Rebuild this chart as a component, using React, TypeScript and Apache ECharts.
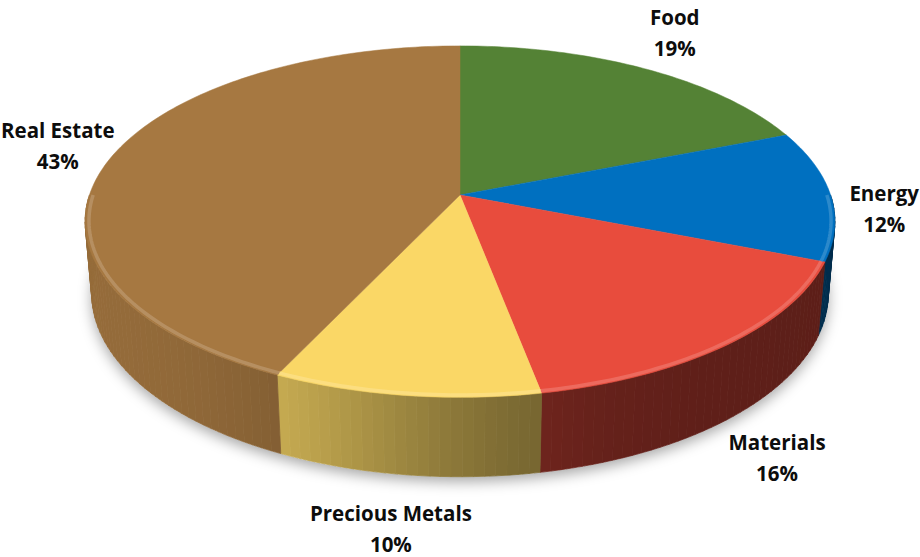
import React, { useEffect, useRef } from 'react';
import * as echarts from 'echarts';

// ---- data ----
const categories: string[] = ['Food', 'Energy', 'Materials', 'Precious Metals', 'Real Estate'];
const values: number[] = [19, 12, 16, 10, 43];
const sliceColors: string[] = ['#548235', '#0070C0', '#E84C3D', '#FAD766', '#A67841'];

const total = values.reduce((a, b) => a + b, 0);
const startAngles: number[] = [];
{
  let acc = 0;
  values.forEach((v) => {
    startAngles.push(acc);
    acc += (v / total) * 360;
  });
}

// ---- 3D projection settings ----
const TILT = (27.6 * Math.PI) / 180;
const SIN = Math.sin(TILT);
const COS = Math.cos(TILT);
const DIST = 5.84;
const THICK = 0.22;

function hexToRgb(hex: string): number[] {
  const h = hex.replace('#', '');
  return [0, 2, 4].map((k) => parseInt(h.substr(k, 2), 16));
}
function shade(hex: string, b: number): string {
  const [r, g, bl] = hexToRgb(hex);
  const f = (x: number) => Math.max(0, Math.min(255, Math.round(x * b)));
  return `rgb(${f(r)},${f(g)},${f(bl)})`;
}
function lighten(hex: string, t: number): string {
  const [r, g, b] = hexToRgb(hex);
  const f = (x: number) => Math.round(x + (255 - x) * t);
  return `rgb(${f(r)},${f(g)},${f(b)})`;
}
function wallBrightness(deg: number): number {
  return 0.4 + 0.5 / (1 + Math.exp(-(deg - 190) / 12));
}

let measureCtx: CanvasRenderingContext2D | null = null;
function textWidth(t: string, font: string): number {
  if (!measureCtx) measureCtx = document.createElement('canvas').getContext('2d');
  if (!measureCtx) return t.length * 10;
  measureCtx.font = font;
  return measureCtx.measureText(t).width;
}

const LABEL_FONT = 'bold 20.5px "Open Sans"';
const LINE_H = 31;

export default function App() {
  const ref = useRef<HTMLDivElement>(null);

  useEffect(() => {
    if (!ref.current) return;
    const chart = echarts.init(ref.current, undefined, { renderer: 'svg' });

    const renderItem = (params: any, api: any) => {
      const i = params.dataIndex;
      const W = api.getWidth();
      const H = api.getHeight();
      const cx = W * 0.5;
      const cy = H * 0.35;
      const F = (2164 * W) / 920;
      const proj = (deg: number, r: number, Y: number): number[] => {
        const t = (deg * Math.PI) / 180;
        const X = r * Math.sin(t);
        const Z = r * Math.cos(t);
        const yc = Y * COS + Z * SIN;
        const zc = Z * COS - Y * SIN + DIST;
        return [cx + (F * X) / zc, cy - (F * yc) / zc];
      };

      const a0 = startAngles[i];
      const a1 = a0 + (values[i] / total) * 360;
      const color = sliceColors[i];
      const children: any[] = [];

      if (i === 0) {
        const pts: number[][] = [];
        for (let d = 0; d < 360; d += 2) pts.push(proj(d, 1, -THICK));
        children.push({
          type: 'polygon',
          z2: 0,
          shape: { points: pts },
          style: {
            fill: '#ffffff',
            shadowBlur: 14,
            shadowColor: 'rgba(0,0,0,0.35)',
            shadowOffsetY: 5,
          },
        });
      }

      // side wall (front facing part)
      const lo = Math.max(a0, 90);
      const hi = Math.min(a1, 270);
      if (hi > lo) {
        const n = Math.max(2, Math.ceil((hi - lo) / 1.5));
        for (let k = 0; k < n; k++) {
          const d0 = lo + ((hi - lo) * k) / n;
          const d1 = lo + ((hi - lo) * (k + 1)) / n;
          const c = shade(color, wallBrightness((d0 + d1) / 2));
          children.push({
            type: 'polygon',
            z2: 1,
            shape: {
              points: [proj(d0, 1, 0), proj(d1, 1, 0), proj(d1, 1, -THICK), proj(d0, 1, -THICK)],
            },
            style: { fill: c, stroke: c, lineWidth: 0.8 },
          });
        }
      }

      // top face
      const top: number[][] = [proj(0, 0, 0)];
      const steps = Math.max(2, Math.ceil(a1 - a0));
      for (let k = 0; k <= steps; k++) top.push(proj(a0 + ((a1 - a0) * k) / steps, 1, 0));
      children.push({
        type: 'polygon',
        z2: 10,
        shape: { points: top },
        style: { fill: color, stroke: color, lineWidth: 0.5 },
      });

      // bevel highlight along front edge
      if (hi > lo) {
        const rim: number[][] = [];
        const n = Math.max(2, Math.ceil(hi - lo));
        for (let k = 0; k <= n; k++) rim.push(proj(lo + ((hi - lo) * k) / n, 0.99, 0));
        children.push({
          type: 'polyline',
          z2: 11,
          shape: { points: rim },
          style: { stroke: lighten(color, 0.2), lineWidth: 3.5, fill: null, opacity: 0.85 },
        });
      }

      // label: placed just outside the slice, at its mid angle
      const mid = (a0 + a1) / 2;
      const cosMid = Math.cos((mid * Math.PI) / 180);
      const frontness = Math.max(0, Math.min(1, -2 * cosMid + 0.25));
      const anchor = proj(mid, 1.12, -THICK * frontness);
      let dx = anchor[0] - cx;
      let dy = anchor[1] - cy;
      const len = Math.sqrt(dx * dx + dy * dy) || 1;
      dx /= len;
      dy /= len;
      const pct = Math.round((values[i] / total) * 100) + '%';
      const name = categories[i];
      const bw = Math.max(textWidth(name, LABEL_FONT), textWidth(pct, LABEL_FONT));
      const bh = LINE_H * 2;
      let lx = anchor[0] + (dx * bw) / 4;
      let ly = anchor[1] + (dy * bh) / 2 - 6;
      lx = Math.max(bw / 2 + 1, Math.min(W - bw / 2 - 1, lx));
      ly = Math.max(bh / 2 - 4, Math.min(H - bh / 2 + 2, ly));
      children.push({
        type: 'text',
        z2: 20,
        x: lx,
        y: ly,
        style: {
          text: name + '\n' + pct,
          font: LABEL_FONT,
          fill: '#0d0d0d',
          align: 'center',
          verticalAlign: 'middle',
          lineHeight: LINE_H,
        },
      });

      return { type: 'group', children };
    };

    chart.setOption({
      animation: false,
      series: [
        {
          type: 'custom',
          coordinateSystem: 'none',
          renderItem,
          data: values.map((v, i) => ({ name: categories[i], value: v })),
        },
      ],
    });

    return () => chart.dispose();
  }, []);

  return (
    <div
      ref={ref}
      style={{ position: 'absolute', left: 0, top: 0, width: 920, height: 557, background: '#fff' }}
    />
  );
}
